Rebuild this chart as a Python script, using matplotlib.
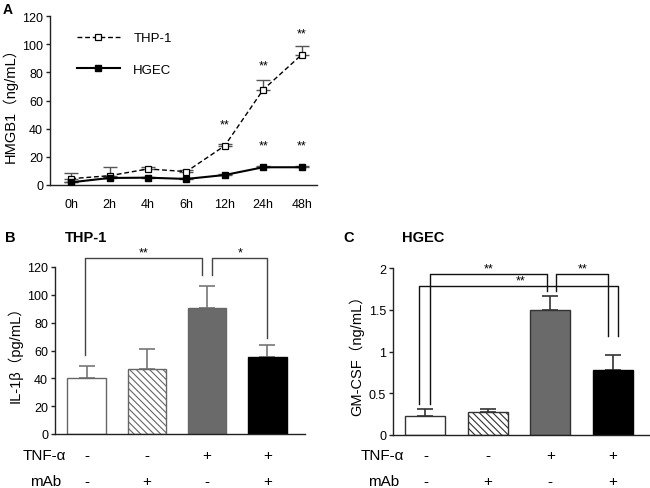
import matplotlib
matplotlib.use("Agg")
import matplotlib.pyplot as plt
import matplotlib.transforms as mtransforms
import numpy as np

plt.rcParams['font.family'] = ['Liberation Sans', 'Noto Sans CJK SC', 'DejaVu Sans']
plt.rcParams['hatch.linewidth'] = 0.8

# ---------------- data ----------------
time_labels = ['0h', '2h', '4h', '6h', '12h', '24h', '48h']
thp1_mean = [4.5, 6.6, 11.4, 9.5, 27.9, 67.7, 92.5]
thp1_err = [4.2, 5.9, 1.2, 1.0, 1.2, 6.6, 5.9]
hgec_mean = [1.9, 5.0, 5.2, 4.3, 7.1, 12.6, 12.6]
hgec_err = [0.4, 0.5, 0.5, 0.4, 0.5, 0.6, 0.6]
stars_thp1_idx = [4, 5, 6]
stars_thp1_y = [43.3, 84.7, 107.9]
stars_hgec_idx = [5, 6]
stars_hgec_y = [27.9, 27.9]

tnf_signs = ['-', '-', '+', '+']
mab_signs = ['-', '+', '-', '+']

il1b_mean = [40.0, 46.5, 90.5, 55.0]
il1b_err = [9.0, 14.5, 16.0, 9.0]
# brackets: (x_left, x_right, y_top, y_left_leg, y_right_leg, label, label_x)
il1b_brackets = [(-0.02, 1.92, 126.2, 56.8, 114.5, '**', 0.95),
                 (2.08, 3.0, 126.2, 114.5, 68.8, '*', 2.55)]

gmcsf_mean = [0.23, 0.28, 1.50, 0.78]
gmcsf_err = [0.08, 0.03, 0.16, 0.18]
gmcsf_brackets = [(0.07, 1.95, 1.928, 0.37, 1.72, '**', 1.02),
                  (2.1, 2.93, 1.928, 1.72, 1.186, '**', 2.52),
                  (-0.1, 3.09, 1.784, 0.37, 1.186, '**', 1.53)]

# ---------------- figure ----------------
W, H = 650, 489
fig = plt.figure(figsize=(W / 100, H / 100), dpi=100)

def px_axes(left, top, right, bottom):
    return fig.add_axes([left / W, 1 - bottom / H, (right - left) / W, (bottom - top) / H])

def style(ax):
    for s in ['top', 'right']:
        ax.spines[s].set_visible(False)
    for s in ['left', 'bottom']:
        ax.spines[s].set_linewidth(1.0)
        ax.spines[s].set_color('#222222')
    ax.tick_params(axis='y', direction='out', length=3, width=1, labelsize=9, pad=2, colors='#222222')
    ax.tick_params(axis='y', labelcolor='black')
    ax.tick_params(axis='x', length=0, labelsize=9)

# ---- Panel A ----
axA = px_axes(50, 17, 317, 186)
style(axA)
x = np.arange(len(time_labels))
axA.errorbar(x, thp1_mean, yerr=[np.zeros(len(x)), thp1_err], fmt='none',
             ecolor='#555555', elinewidth=1, capsize=5, capthick=1, zorder=2)
axA.errorbar(x, hgec_mean, yerr=[np.zeros(len(x)), hgec_err], fmt='none',
             ecolor='#555555', elinewidth=1, capsize=5, capthick=1, zorder=2)
axA.plot(x, thp1_mean, ls=(0, (3.5, 2)), color='black', lw=1.0, marker='s', ms=5,
         mfc='white', mec='black', mew=0.9, label='THP-1', zorder=3)
axA.plot(x, hgec_mean, ls='-', color='black', lw=1.5, marker='s', ms=5,
         mfc='black', mec='black', label='HGEC', zorder=3)
axA.set_xlim(-0.55, 6.4)
axA.set_ylim(0, 120)
axA.set_yticks(range(0, 121, 20))
axA.set_xticks(x)
axA.set_xticklabels(time_labels)
axA.tick_params(axis='x', pad=9)
axA.set_ylabel('HMGB1（ng/mL）', fontsize=10.5, labelpad=3)
for i, yy in zip(stars_thp1_idx, stars_thp1_y):
    axA.text(i, yy, '**', ha='center', va='center', fontsize=9)
for i, yy in zip(stars_hgec_idx, stars_hgec_y):
    axA.text(i, yy, '**', ha='center', va='center', fontsize=9)
axA.legend(loc='upper left', bbox_to_anchor=(0.08, 0.935), frameon=False, fontsize=9.5,
           handlelength=3.3, handletextpad=1.0, labelspacing=1.45, borderaxespad=0)
fig.text(3 / W, 1 - 3 / H, 'A', fontsize=10, fontweight='bold', va='top', ha='left')

# ---- bar panels ----
def bar_panel(ax, means, errs, brackets, ylim, yticks, yticklabels, ylabel,
              edge, ecol, bcol, xlim, label_center_px):
    style(ax)
    xb = np.arange(len(means))
    faces = ['white', 'white', '#6a6a6a', 'black']
    hatches = [None, '\\\\\\\\\\', None, None]
    for xi, m, f, h in zip(xb, means, faces, hatches):
        ax.bar(xi, m, width=0.64, color=f, edgecolor=edge if f != 'black' else 'black',
               linewidth=1.0, hatch=h, zorder=2)
    ax.errorbar(xb, means, yerr=[np.zeros(len(xb)), errs], fmt='none', ecolor=ecol,
                elinewidth=1.2, capsize=5.5, capthick=1.2, zorder=1)
    for (xl, xr, yt, yl, yr, lab, lx) in brackets:
        ax.plot([xl, xl, xr, xr], [yl, yt, yt, yr], color=bcol, lw=1.0, clip_on=False, zorder=3)
        ax.text(lx, yt, lab, ha='center', va='bottom', fontsize=9, clip_on=False)
    ax.set_xlim(*xlim)
    ax.set_ylim(*ylim)
    ax.set_yticks(yticks)
    ax.set_yticklabels(yticklabels)
    ax.set_xticks([])
    ax.set_ylabel(ylabel, fontsize=10.5, labelpad=3)
    tr = mtransforms.blended_transform_factory(ax.transData, fig.transFigure)
    for xi, t, m in zip(xb, tnf_signs, mab_signs):
        ax.text(xi, 1 - 456 / H, t, transform=tr, ha='center', va='center', fontsize=11)
        ax.text(xi, 1 - 482 / H, m, transform=tr, ha='center', va='center', fontsize=11)
    fig.text(label_center_px / W, 1 - 456 / H, 'TNF-α', ha='center', va='center', fontsize=11)
    fig.text((label_center_px + 2) / W, 1 - 482 / H, 'mAb', ha='center', va='center', fontsize=11)

axB = px_axes(55, 268, 305, 435)
bar_panel(axB, il1b_mean, il1b_err, il1b_brackets, (0, 120), range(0, 121, 20),
          [str(v) for v in range(0, 121, 20)], 'IL-1β（pg/mL）',
          '#666666', '#777777', '#444444', (-0.525, 3.625), 44)
fig.text(5 / W, 1 - 238 / H, 'B', fontsize=10.5, fontweight='bold', va='center', ha='left')
fig.text(65 / W, 1 - 238 / H, 'THP-1', fontsize=10.5, fontweight='bold', va='center', ha='left')

axC = px_axes(393, 269, 650, 436)
bar_panel(axC, gmcsf_mean, gmcsf_err, gmcsf_brackets, (0, 2), [0, 0.5, 1, 1.5, 2],
          ['0', '0.5', '1', '1.5', '2'], 'GM-CSF（ng/mL）',
          '#333333', '#333333', '#111111', (-0.52, 3.6), 382)
fig.text(343 / W, 1 - 238 / H, 'C', fontsize=10.5, fontweight='bold', va='center', ha='left')
fig.text(402 / W, 1 - 238 / H, 'HGEC', fontsize=10.5, fontweight='bold', va='center', ha='left')

fig.savefig('out.png', dpi=100)
